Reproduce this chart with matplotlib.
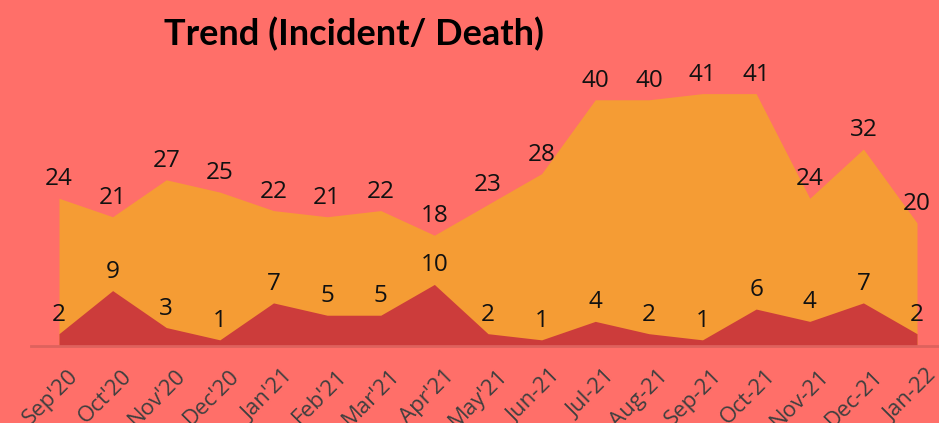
import numpy as np
import matplotlib.pyplot as plt
from matplotlib.transforms import ScaledTranslation

months = ["Sep'20", "Oct'20", "Nov'20", "Dec'20", "Jan'21", "Feb'21", "Mar'21", "Apr'21",
          "May'21", "Jun-21", "Jul-21", "Aug-21", "Sep-21", "Oct-21", "Nov-21", "Dec-21", "Jan-22"]
incidents = [24, 21, 27, 25, 22, 21, 22, 18, 23, 28, 40, 40, 41, 41, 24, 32, 20]
deaths = [2, 9, 3, 1, 7, 5, 5, 10, 2, 1, 4, 2, 1, 6, 4, 7, 2]

bg = '#FF6F69'
orange = '#F59C34'
red = '#CC3C3B'

plt.rcParams['font.family'] = ['Open Sans', 'DejaVu Sans']

fig = plt.figure(figsize=(9.39, 4.23), dpi=100, facecolor=bg)
ax = fig.add_axes([31/939, 77/423, 908/939, 277/423])
ax.set_facecolor(bg)

x = np.arange(len(months))
ax.fill_between(x, incidents, 0, color=orange, lw=0)
ax.fill_between(x, deaths, 0, color=red, lw=0)

lab_off = ScaledTranslation(0, 13/100, fig.dpi_scale_trans)
for i in range(len(months)):
    ax.text(x[i], incidents[i], str(incidents[i]), ha='center', va='baseline',
            fontsize=17.5, color='#111111', transform=ax.transData + lab_off)
    ax.text(x[i], deaths[i], str(deaths[i]), ha='center', va='baseline',
            fontsize=17.5, color='#111111', transform=ax.transData + lab_off)

ax.set_xlim(-0.522, 16.41)
ax.set_ylim(0, 45)
ax.set_yticks([])
ax.set_xticks(x)
ax.set_xticklabels(months, fontsize=16, color='#3F3F3F')
ax.tick_params(axis='x', length=0, pad=14)
tick_off = ScaledTranslation(9/100, 0, fig.dpi_scale_trans)
for lbl in ax.get_xticklabels():
    lbl.set_rotation(45)
    lbl.set_ha('right')
    lbl.set_rotation_mode('anchor')
    lbl.set_va('top')
    lbl.set_transform(lbl.get_transform() + tick_off)

for s in ['top', 'right', 'left']:
    ax.spines[s].set_visible(False)
ax.spines['bottom'].set_color('#DE625D')
ax.spines['bottom'].set_linewidth(2)

fig.text(0.377, (423-45)/423, 'Trend (Incident/ Death)', ha='center', va='baseline',
         fontsize=26, fontweight='bold', family=['Lato', 'DejaVu Sans'], color='black')

fig.savefig('out.png', dpi=100, facecolor=bg)
